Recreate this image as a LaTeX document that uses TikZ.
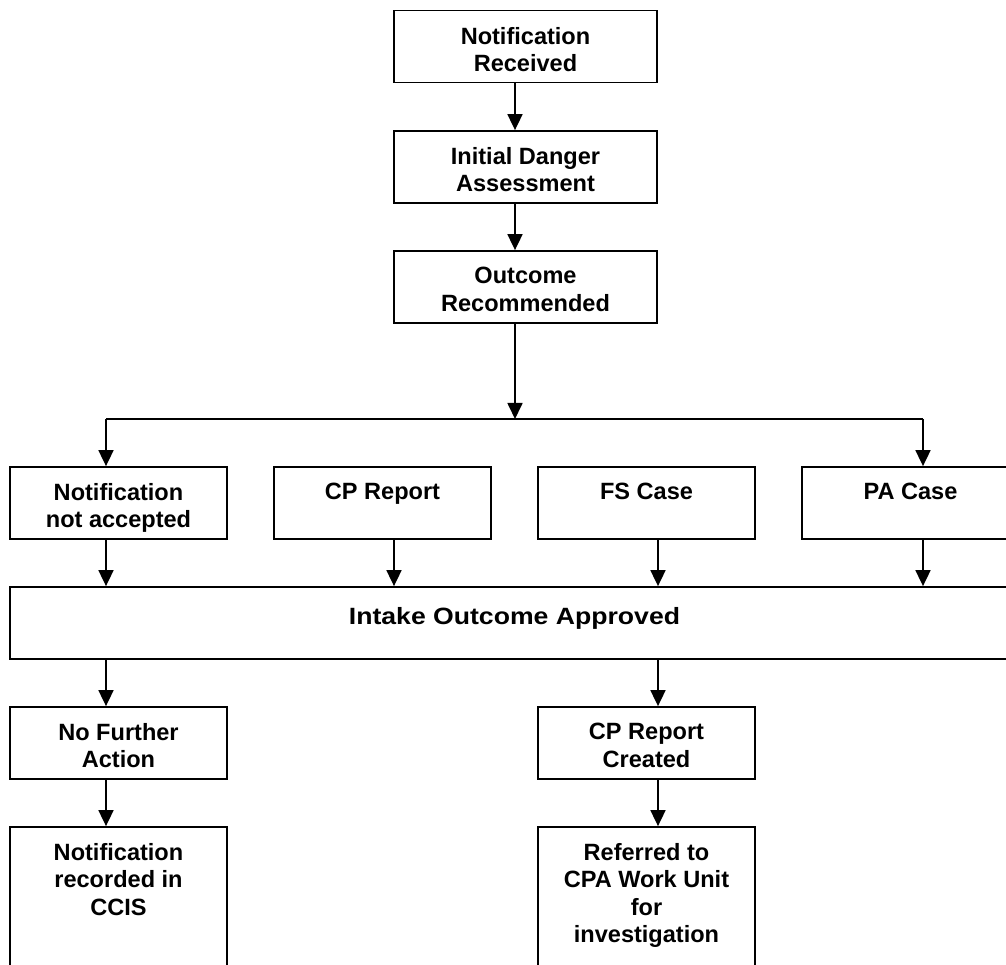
\documentclass[tikz,border=0pt]{standalone}
\usepackage{fontspec}
\setmainfont{Liberation Sans}
\usepackage{tikz}
\usetikzlibrary{arrows.meta,calc}
\tikzset{
  >={Triangle[length=3.2mm,width=3mm]},
  line/.style={draw=black, line width=1pt},
  arrowline/.style={draw=black, ->, line width=1pt},
  box/.style={draw=black, line width=1pt, inner sep=0pt, minimum height=14.4mm},
  boxtext/.style={
    anchor=north,
    inner sep=0pt,
    yshift=-3.4mm,
    align=center,
    font=\fontsize{13.4}{15.5}\selectfont\bfseries
  },
  boxlabel/.style={label={[boxtext]north:#1}},
  widelabel/.style={label={[boxtext, yshift=-0.8mm]north:{\addfontfeature{FakeStretch=1.13}#1}}}
}

\begin{document}
\begin{tikzpicture}[x=1cm,y=1cm]
  \useasboundingbox (0,0) rectangle (20.12,19.28);
  \clip (0,0) rectangle (20.12,19.28);

  \node[box, minimum width=52.6mm, boxlabel={Notification\\Received}] (recv) at (10.51,18.35) {};
  \node[box, minimum width=52.6mm, boxlabel={Initial Danger\\Assessment}] (danger) at (10.51,15.94) {};
  \node[box, minimum width=52.6mm, boxlabel={Outcome\\Recommended}] (outcome) at (10.51,13.54) {};

  \coordinate (fork) at (10.30,10.90);
  \coordinate (forkL) at (2.12,10.90);
  \coordinate (forkR) at (18.46,10.90);

  \node[box, minimum width=43.4mm, boxlabel={Notification\\not accepted}] (notacc) at (2.37,9.22) {};
  \node[box, minimum width=43.4mm, boxlabel={CP Report}] (cprep) at (7.65,9.22) {};
  \node[box, minimum width=43.4mm, boxlabel={FS Case}] (fscase) at (12.93,9.22) {};
  \node[box, minimum width=43.4mm, boxlabel={PA Case}] (pacase) at (18.21,9.22) {};

  \node[box, minimum width=201.8mm, widelabel={Intake Outcome Approved}] (intake) at (10.29,6.82) {};

  \node[box, minimum width=43.4mm, boxlabel={No Further\\Action}] (nfa) at (2.37,4.42) {};
  \node[box, minimum width=43.4mm, boxlabel={CP Report\\Created}] (created) at (12.93,4.42) {};

  \node[box, minimum width=43.4mm, minimum height=37mm, boxlabel={Notification\\recorded in\\CCIS}] (ccis) at (2.37,0.89) {};
  \node[box, minimum width=43.4mm, minimum height=37mm, boxlabel={Referred to\\CPA Work Unit\\for\\investigation}] (cpa) at (12.93,0.89) {};

  \draw[arrowline] ([xshift=-2.1mm]recv.south) -- ([xshift=-2.1mm]danger.north);
  \draw[arrowline] ([xshift=-2.1mm]danger.south) -- ([xshift=-2.1mm]outcome.north);
  \draw[arrowline] ([xshift=-2.1mm]outcome.south) -- (fork);
  \draw[line] (forkL) -- (forkR);
  \draw[arrowline] (forkL) -- (forkL |- notacc.north);
  \draw[arrowline] (forkR) -- (forkR |- pacase.north);

  \draw[arrowline] ([xshift=-2.5mm]notacc.south) -- ([xshift=-2.5mm]notacc.south |- intake.north);
  \draw[arrowline] ([xshift=2.3mm]cprep.south) -- ([xshift=2.3mm]cprep.south |- intake.north);
  \draw[arrowline] ([xshift=2.3mm]fscase.south) -- ([xshift=2.3mm]fscase.south |- intake.north);
  \draw[arrowline] ([xshift=2.5mm]pacase.south) -- ([xshift=2.5mm]pacase.south |- intake.north);

  \draw[arrowline] ([xshift=-2.5mm]nfa.north |- intake.south) -- ([xshift=-2.5mm]nfa.north);
  \draw[arrowline] ([xshift=2.3mm]created.north |- intake.south) -- ([xshift=2.3mm]created.north);
  \draw[arrowline] ([xshift=-2.5mm]nfa.south) -- ([xshift=-2.5mm]ccis.north);
  \draw[arrowline] ([xshift=2.3mm]created.south) -- ([xshift=2.3mm]cpa.north);
\end{tikzpicture}
\end{document}
